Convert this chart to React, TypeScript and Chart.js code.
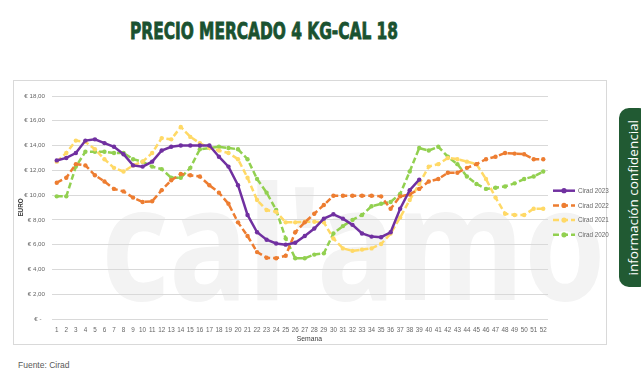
import React, { useEffect, useRef } from 'react';
import { Chart, registerables } from 'chart.js';

Chart.register(...registerables);

const TITLE = 'PRECIO MERCADO 4 KG-CAL 18';
const SOURCE = 'Fuente: Cirad';
const SIDE_TAB = 'información confidencial';
const X_TITLE = 'Semana';
const Y_TITLE = 'EURO';

const weeks = [
  '1', '2', '3', '4', '5', '6', '7', '8', '9', '10', '11', '12', '13',
  '14', '15', '16', '17', '18', '19', '20', '21', '22', '23', '24', '25', '26',
  '27', '28', '29', '30', '31', '32', '33', '34', '35', '36', '37', '38', '39',
  '40', '41', '42', '43', '44', '45', '46', '47', '48', '49', '50', '51', '52',
];

const seriesNames = ['Cirad 2023', 'Cirad 2022', 'Cirad 2021', 'Cirad 2020'];

const cirad2023 = [
  12.8, 13.0, 13.4, 14.4, 14.5, 14.2, 13.9, 13.3, 12.4, 12.3, 12.7, 13.6, 13.9,
  14.0, 14.0, 14.0, 14.0, 13.1, 12.3, 10.8, 8.4, 7.0, 6.4, 6.1, 6.0, 6.15,
  6.7, 7.3, 8.1, 8.45, 8.1, 7.6, 6.9, 6.65, 6.6, 7.0, 8.9, 10.4, 11.25,
  null, null, null, null, null, null, null, null, null, null, null, null, null,
];

const cirad2022 = [
  11.0, 11.4, 12.5, 12.4, 11.6, 11.1, 10.5, 10.3, 9.8, 9.45, 9.5, 10.4, 11.2,
  11.7, 11.6, 11.5, 10.8, 10.2, 9.3, 7.8, 6.7, 5.4, 4.95, 4.9, 5.1, 7.0,
  7.8, 8.5, 9.2, 9.95, 9.95, 9.95, 9.95, 9.95, 9.9, 8.9, 9.9, 10.05, 10.5,
  11.1, 11.3, 11.8, 11.8, 12.2, 12.5, 12.9, 13.1, 13.4, 13.35, 13.3, 12.9, 12.9,
];

const cirad2021 = [
  12.7, 13.4, 14.4, 14.3, 13.7, 12.9, 12.2, 11.9, 12.4, 12.7, 13.4, 14.6, 14.5,
  15.5, 14.7, 14.2, 13.8, 13.6, 13.4, 12.9, 11.4, 9.6, 8.8, 8.65, 7.8, 7.8,
  7.85, 7.85, 7.8, 6.5, 5.7, 5.5, 5.6, 5.7, 6.05, 6.9, 8.2, 9.6, 10.9,
  12.3, 12.5, 13.0, 12.9, 12.7, 12.5, 11.3, 9.8, 8.5, 8.4, 8.4, 8.9, 8.9,
];

const cirad2020 = [
  9.9, 9.9, 12.3, 13.5, 13.5, 13.5, 13.4, 13.4, 12.9, 12.7, 12.3, 12.1, 11.4,
  11.4, 12.2, 13.7, 13.8, 13.9, 13.8, 13.7, 12.9, 11.3, 10.2, 8.8, 6.5, 4.9,
  4.9, 5.2, 5.3, 6.9, 7.5, 8.0, 8.4, 9.1, 9.3, 9.45, 10.1, 11.9, 13.8,
  13.6, 13.9, 13.1, 12.5, 11.5, 10.9, 10.5, 10.6, 10.7, 10.95, 11.3, 11.5, 11.9,
];

const yTickValues = [0, 2, 4, 6, 8, 10, 12, 14, 16, 18];

const COLORS = ['#7030A0', '#ED7D31', '#FFD966', '#92D050'];
const DASHES: number[][] = [[], [6, 3], [6, 3], [6, 3]];

const TICK_FONT = '"Liberation Sans Narrow", "Liberation Sans", Arial, sans-serif';

const CANVAS_W = 605;
const CANVAS_H = 265;

const watermarkPlugin = {
  id: 'watermark',
  beforeDraw(chart: any) {
    const ctx = chart.ctx;
    ctx.save();
    ctx.fillStyle = '#f3f3f3';
    ctx.font = 'bold 158px "Noto Sans", sans-serif';
    ctx.textBaseline = 'alphabetic';
    const txt = "cal'amo";
    const w = ctx.measureText(txt).width;
    const targetW = 505;
    ctx.translate(88, 220);
    ctx.scale(targetW / w, 1);
    ctx.fillText(txt, 0, 0);
    ctx.restore();
  },
};

const legendPlugin = {
  id: 'sideLegend',
  afterDraw(chart: any) {
    const ctx = chart.ctx;
    const { right, top } = chart.chartArea;
    const x0 = right + 5;
    chart.data.datasets.forEach((ds: any, i: number) => {
      const y = top + 94.7 + i * 14.7;
      ctx.save();
      ctx.strokeStyle = ds.borderColor;
      ctx.lineWidth = 2.5;
      ctx.setLineDash(ds.borderDash || []);
      ctx.beginPath();
      ctx.moveTo(x0, y);
      ctx.lineTo(x0 + 22, y);
      ctx.stroke();
      ctx.setLineDash([]);
      ctx.fillStyle = ds.borderColor;
      ctx.beginPath();
      ctx.arc(x0 + 11, y, 2.6, 0, Math.PI * 2);
      ctx.fill();
      ctx.fillStyle = '#666666';
      ctx.font = `6.3px ${TICK_FONT}`;
      ctx.textBaseline = 'middle';
      ctx.textAlign = 'left';
      ctx.fillText(ds.label, x0 + 25, y + 0.5);
      ctx.restore();
    });
  },
};

function ChartBox() {
  const ref = useRef<HTMLCanvasElement | null>(null);

  useEffect(() => {
    if (!ref.current) return;
    const seriesData = [cirad2023, cirad2022, cirad2021, cirad2020];
    const chart = new Chart(ref.current, {
      type: 'line',
      data: {
        labels: weeks,
        datasets: seriesData.map((d, i) => ({
          label: seriesNames[i],
          data: d,
          borderColor: COLORS[i],
          backgroundColor: COLORS[i],
          borderWidth: 2.5,
          borderDash: DASHES[i],
          pointRadius: 2.2,
          pointBorderWidth: 0,
          pointBackgroundColor: COLORS[i],
          pointHoverRadius: 2.2,
          tension: 0,
          spanGaps: false,
          fill: false,
        })),
      },
      options: {
        responsive: false,
        animation: false,
        devicePixelRatio: 1,
        layout: { padding: { left: 0, right: CANVAS_W - 535, top: 16, bottom: 0 } },
        plugins: {
          legend: { display: false },
          tooltip: { enabled: false },
        },
        scales: {
          x: {
            type: 'category',
            offset: true,
            grid: { display: false, drawTicks: false },
            border: { display: false },
            ticks: {
              autoSkip: false,
              maxRotation: 0,
              minRotation: 0,
              padding: 7,
              color: '#666666',
              font: { family: TICK_FONT, size: 6.3 },
            },
            title: {
              display: true,
              text: '          ' + X_TITLE,
              color: '#404040',
              padding: { top: 0, bottom: 2 },
              font: { family: TICK_FONT, size: 6.8 },
            },
            afterFit(scale: any) {
              scale.height = 26;
            },
          },
          y: {
            min: 0,
            max: 18,
            afterBuildTicks(scale: any) {
              scale.ticks = yTickValues.map((v) => ({ value: v }));
            },
            grid: { color: '#d9d9d9', lineWidth: 1, drawTicks: false },
            border: { display: false },
            ticks: {
              padding: 7,
              color: '#666666',
              font: { family: TICK_FONT, size: 6.2 },
              callback: (v: any) =>
                Number(v) === 0 ? '€ -  ' : '€ ' + Number(v).toFixed(2).replace('.', ','),
            },
            title: {
              display: true,
              text: Y_TITLE,
              color: '#404040',
              padding: { top: 4, bottom: 0 },
              font: { family: TICK_FONT, size: 6.3, weight: 'bold' },
            },
            afterFit(scale: any) {
              scale.width = 39;
            },
          },
        },
      },
      plugins: [watermarkPlugin, legendPlugin],
    } as any);
    return () => chart.destroy();
  }, []);

  return (
    <canvas
      ref={ref}
      width={CANVAS_W}
      height={CANVAS_H}
      style={{ position: 'absolute', left: 13, top: 80, width: CANVAS_W, height: CANVAS_H }}
    />
  );
}

export default function App() {
  const titleRef = useRef<HTMLSpanElement | null>(null);

  useEffect(() => {
    const el = titleRef.current;
    if (!el) return;
    const w = el.getBoundingClientRect().width;
    if (w > 0) el.style.transform = `scaleX(${268 / w})`;
  }, []);

  return (
    <div
      style={{
        position: 'fixed',
        left: 0,
        top: 0,
        width: 641,
        height: 377,
        background: '#ffffff',
        overflow: 'hidden',
      }}
    >
      <span
        ref={titleRef}
        style={{
          position: 'absolute',
          left: 130,
          top: 20,
          fontFamily: '"DejaVu Sans Condensed", "DejaVu Sans", sans-serif',
          fontWeight: 'bold',
          fontSize: 23,
          lineHeight: '23px',
          color: '#1a5230',
          whiteSpace: 'nowrap',
          transformOrigin: 'left top',
          WebkitTextStroke: '0.8px #1a5230',
        }}
      >
        {TITLE}
      </span>

      <div
        style={{
          position: 'absolute',
          left: 13,
          top: 80,
          width: 594,
          height: 265,
          border: '1px solid #d9d9d9',
          boxSizing: 'border-box',
        }}
      />
      <ChartBox />

      <div
        style={{
          position: 'absolute',
          left: 18,
          top: 360,
          fontFamily: '"Liberation Sans", Arial, sans-serif',
          fontSize: 8.5,
          lineHeight: '10px',
          color: '#595959',
          whiteSpace: 'nowrap',
        }}
      >
        {SOURCE}
      </div>

      <div
        style={{
          position: 'absolute',
          left: 619,
          top: 108,
          width: 30,
          height: 179,
          background: '#215a33',
          borderRadius: 10,
        }}
      >
        <div
          style={{
            position: 'absolute',
            left: 0,
            top: 0,
            width: 28,
            height: 179,
            display: 'flex',
            alignItems: 'center',
            justifyContent: 'center',
          }}
        >
          <span
            style={{
              writingMode: 'vertical-rl',
              transform: 'rotate(180deg)',
              color: '#ffffff',
              fontFamily: '"Open Sans", "Noto Sans", sans-serif',
              fontSize: 13.5,
              fontWeight: 500,
              whiteSpace: 'nowrap',
              lineHeight: '14px',
            }}
          >
            {SIDE_TAB}
          </span>
        </div>
      </div>
    </div>
  );
}
